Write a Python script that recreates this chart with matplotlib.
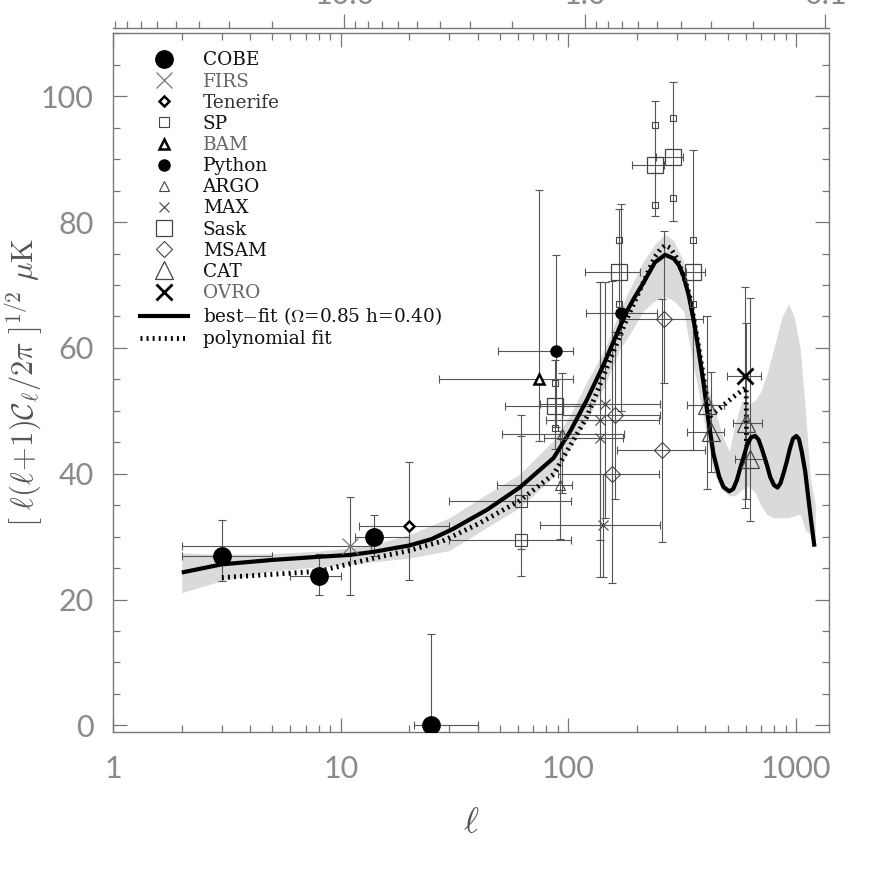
import numpy as np
import matplotlib
matplotlib.use('Agg')
import matplotlib.pyplot as plt
from matplotlib.lines import Line2D
from matplotlib.ticker import FixedLocator, FuncFormatter, NullFormatter
from matplotlib.font_manager import FontProperties

plt.rcParams['mathtext.fontset'] = 'cm'

# ---------------- data ----------------
# best-fit model curve (Omega=0.85, h=0.40)
fit_ell = [2, 3, 5, 8, 11, 14, 20, 25, 31, 44, 61, 86, 102, 120, 143, 169, 181, 195, 214,
           240, 266, 290, 305, 320, 337, 354, 372, 392, 412, 434, 460, 480, 509, 530, 550,
           570, 588, 610, 635, 662, 685, 710, 745, 770, 800, 829, 855, 885, 912, 940, 970,
           1004, 1030, 1060, 1098, 1130, 1165, 1205]
fit_val = [24.3, 25.6, 26.3, 26.8, 27.1, 27.6, 28.6, 29.6, 31.2, 34.3, 37.8, 42.5, 46.8,
           51.6, 57.4, 63.5, 65.9, 68.0, 70.4, 73.6, 74.8, 74.2, 73.2, 71.5, 68.5, 64.7,
           60.0, 54.5, 48.5, 43.1, 39.5, 37.9, 37.2, 37.6, 39.0, 41.0, 42.6, 44.6, 45.8,
           46.0, 45.4, 43.8, 41.4, 39.5, 38.2, 37.8, 38.5, 40.3, 42.0, 44.0, 45.6, 46.0,
           45.5, 43.5, 40.3, 36.5, 32.5, 28.4]

# grey uncertainty band
band_ell = [2, 3, 5, 8, 11, 14, 20, 30, 44, 61, 86, 102, 120, 143, 169, 181, 214, 240,
            266, 290, 320, 354, 392, 434, 470, 509, 540, 578, 620, 662, 700, 745, 800,
            870, 927, 980, 1043, 1100, 1155, 1215]
band_lo = [21.1, 23.0, 24.5, 25.2, 25.6, 26.0, 26.6, 27.8, 31.5, 34.6, 39.5, 44.1, 48.5,
           53.7, 60.0, 61.5, 65.9, 67.5, 68.1, 67.5, 65.9, 57.3, 48.8, 40.3, 37.5, 36.5,
           36.5, 37.5, 38.0, 37.0, 35.0, 33.5, 33.0, 33.0, 33.0, 33.3, 33.6, 31.0, 30.4,
           29.0]
band_hi = [27.4, 27.2, 27.3, 27.7, 28.2, 28.8, 30.3, 33.0, 36.8, 39.9, 45.3, 49.4, 54.5,
           59.5, 66.0, 68.5, 73.8, 76.5, 78.1, 77.0, 73.8, 65.9, 55.7, 51.1, 46.5, 43.5,
           48.0, 51.6, 51.0, 51.7, 53.0, 55.8, 60.0, 65.0, 67.0, 65.0, 60.0, 50.0, 39.4,
           35.0]

# polynomial fit
poly_ell = [3, 5, 8, 11, 14, 20, 28, 40, 61, 86, 120, 158, 181, 214, 240, 255, 266, 280,
            300, 320, 340, 354, 372, 392, 410, 420, 470, 530, 604, 606]
poly_val = [23.5, 24.0, 24.5, 25.7, 26.6, 27.8, 29.3, 32.0, 35.7, 39.9, 48.9, 59.5, 64.7,
            70.5, 74.5, 75.8, 76.3, 75.9, 74.2, 71.5, 68.5, 65.0, 60.5, 55.5, 51.0, 49.2,
            50.6, 52.2, 53.7, 44.4]

# experiments: ell, value, lower end, upper end, ell_min, ell_max
cobe_l = [3, 8, 14, 25];       cobe_v = [27.0, 23.7, 29.9, 0.0]
cobe_lo = [22.9, 20.8, 26.9, -14.5]; cobe_hi = [32.7, 27.3, 33.4, 14.5]
cobe_l1 = [2, 6, 11.5, 21];    cobe_l2 = [5, 10, 20, 40]

firs_l = [11];   firs_v = [28.5];  firs_lo = [20.7]; firs_hi = [36.3]
firs_l1 = [2];   firs_l2 = [13.5]

ten_l = [20];    ten_v = [31.7];   ten_lo = [23.1];  ten_hi = [41.9]
ten_l1 = [12];   ten_l2 = [30]

sp_l = [62, 62];       sp_v = [29.4, 35.7]
sp_lo = [23.7, 28.0];  sp_hi = [49.3, 46.0]
sp_l1 = [30, 30];      sp_l2 = [103, 103]

bam_l = [74.4];  bam_v = [55.0];  bam_lo = [45.2]; bam_hi = [85.1]
bam_l1 = [27];   bam_l2 = [105]

py_l = [88.3, 170.4];  py_v = [59.5, 65.6]
py_lo = [47.5, 50.0];  py_hi = [74.7, 82.9]
py_l1 = [49, 120];     py_l2 = [105, 245]

argo_l = [93.5, 92];    argo_v = [46.3, 38.2]
argo_lo = [37.0, 29.6]; argo_hi = [56.0, 46.8]
argo_l1 = [51, 48.5];   argo_l2 = [176, 103.6]

max_l = [145, 138, 137, 142];        max_v = [51.1, 48.6, 45.7, 31.8]
max_lo = [33.0, 23.6, 29.5, 23.6];   max_hi = [70.5, 70.5, 70.5, 40.0]
max_l1 = [75, 80, 78, 75];           max_l2 = [253, 249, 174, 253]

sask_l = [87, 166.5, 239, 288, 351]
sask_v = [50.8, 72.1, 89.1, 90.3, 72.1]
sask_lo = [44.0, 62.0, 81.0, 80.1, 43.7]
sask_hi = [58.0, 82.0, 99.2, 102.3, 91.4]
sask_l1 = [52.6, 118, 190, 243, 327]
sask_l2 = [125, 206, 262, 320, 400]
sask_cal_lo = [47.3, 67.0, 82.7, 83.8, 67.0]   # small squares on the bars
sask_cal_hi = [54.5, 77.2, 95.4, 96.6, 77.2]

msam_l = [160.4, 155.8, 264, 258];     msam_v = [49.4, 40.0, 64.6, 43.7]
msam_lo = [36.0, 22.7, 54.5, 29.2];    msam_hi = [62.5, 70.7, 78.6, 67.8]
msam_l1 = [93.5, 90, 168.7, 163];      msam_l2 = [253, 250, 392, 399]

cat_l = [406, 424, 604, 629];          cat_v = [51.0, 46.6, 48.1, 42.3]
cat_lo = [37.5, 40.3, 36.0, 32.5];     cat_hi = [65.0, 56.2, 64.0, 67.9]
cat_l1 = [333, 333, 530, 540];         cat_l2 = [483, 483, 711, 720]

ovro_l = [594];  ovro_v = [55.5];  ovro_lo = [34.6]; ovro_hi = [69.7]
ovro_l1 = [497]; ovro_l2 = [701]

x_ticks = [1, 10, 100, 1000]
y_ticks = [0, 20, 40, 60, 80, 100]
theta_ticks = [0.1, 1.0, 10.0]

# ---------------- styles ----------------
styles = {
    'COBE':     dict(marker='o', ms=12.5, mfc='k', mec='k', mew=1.0),
    'FIRS':     dict(marker='x', ms=12, mfc='none', mec='#777777', mew=0.9),
    'Tenerife': dict(marker='D', ms=5.5, mfc='white', mec='k', mew=1.8),
    'SP':       dict(marker='s', ms=7.5, mfc='none', mec='#444444', mew=0.8),
    'BAM':      dict(marker='^', ms=7, mfc='white', mec='k', mew=1.8),
    'Python':   dict(marker='o', ms=8, mfc='k', mec='k', mew=1.0),
    'ARGO':     dict(marker='^', ms=7.5, mfc='none', mec='#444444', mew=0.8),
    'MAX':      dict(marker='x', ms=7, mfc='none', mec='#444444', mew=0.8),
    'Sask':     dict(marker='s', ms=12, mfc='none', mec='#444444', mew=0.9),
    'MSAM':     dict(marker='D', ms=8, mfc='none', mec='#444444', mew=0.8),
    'CAT':      dict(marker='^', ms=13, mfc='none', mec='#444444', mew=0.9),
    'OVRO':     dict(marker='x', ms=11, mfc='none', mec='k', mew=2.0),
}
text_col = {'FIRS': '#666666', 'BAM': '#666666', 'OVRO': '#666666', 'Tenerife': '#333333'}

AXC = '#777777'
TKC = '#8a8a8a'

fig = plt.figure(figsize=(8.72, 8.72), dpi=100)
ax = fig.add_axes([0.1299, 0.1609, 0.8211, 0.8009])
ax.set_xscale('log')
ax.set_xlim(1, 1400)
ax.set_ylim(-1, 110)

ax.fill_between(band_ell, band_lo, band_hi, color='#dadada', lw=0, zorder=1)


def exp_plot(name, l, v, lo, hi, l1, l2, size_override=None):
    l = np.array(l, float); v = np.array(v, float)
    yerr = [v - np.array(lo), np.array(hi) - v]
    xerr = [l - np.array(l1), np.array(l2) - l]
    ax.errorbar(l, v, yerr=yerr, xerr=xerr, fmt='none', ecolor='#555555',
                elinewidth=0.8, capsize=3, capthick=0.8, zorder=2)
    st = dict(styles[name])
    if size_override is not None:
        st['ms'] = size_override
    ax.plot(l, v, linestyle='none', zorder=5, **st)


exp_plot('COBE', cobe_l, cobe_v, cobe_lo, cobe_hi, cobe_l1, cobe_l2)
exp_plot('FIRS', firs_l, firs_v, firs_lo, firs_hi, firs_l1, firs_l2)
exp_plot('Tenerife', ten_l, ten_v, ten_lo, ten_hi, ten_l1, ten_l2)
exp_plot('SP', sp_l, sp_v, sp_lo, sp_hi, sp_l1, sp_l2, size_override=9)
exp_plot('BAM', bam_l, bam_v, bam_lo, bam_hi, bam_l1, bam_l2)
exp_plot('Python', py_l, py_v, py_lo, py_hi, py_l1, py_l2)
exp_plot('ARGO', argo_l, argo_v, argo_lo, argo_hi, argo_l1, argo_l2)
exp_plot('MAX', max_l, max_v, max_lo, max_hi, max_l1, max_l2)
exp_plot('Sask', sask_l, sask_v, sask_lo, sask_hi, sask_l1, sask_l2)
ax.plot(sask_l + sask_l, sask_cal_lo + sask_cal_hi, linestyle='none', marker='s', ms=3.8,
        mfc='none', mec='#444444', mew=0.8, zorder=5)
exp_plot('MSAM', msam_l, msam_v, msam_lo, msam_hi, msam_l1, msam_l2)
exp_plot('CAT', cat_l, cat_v, cat_lo, cat_hi, cat_l1, cat_l2)
exp_plot('OVRO', ovro_l, ovro_v, ovro_lo, ovro_hi, ovro_l1, ovro_l2)

DOT = (0, (0.4, 0.85))
ax.plot(poly_ell, poly_val, color='k', lw=3.5, linestyle=DOT, dash_capstyle='butt', zorder=4)
ax.plot(fit_ell, fit_val, color='k', lw=3.0, solid_capstyle='butt', solid_joinstyle='round',
        zorder=4)

# ---------------- axes styling ----------------
for sp in ax.spines.values():
    sp.set_color(AXC); sp.set_linewidth(1.0)

ax.xaxis.set_major_locator(FixedLocator(x_ticks))
ax.xaxis.set_minor_locator(FixedLocator([m * 10 ** k for k in range(0, 4) for m in range(2, 10)
                                         if m * 10 ** k < 1400]))
ax.xaxis.set_major_formatter(FuncFormatter(lambda v, p: f'{v:g}'))
ax.xaxis.set_minor_formatter(NullFormatter())
ax.yaxis.set_major_locator(FixedLocator(y_ticks))
ax.yaxis.set_minor_locator(FixedLocator(list(range(0, 111, 5))))

ax.tick_params(which='both', direction='in', top=True, right=True, color=AXC, width=0.9)
ax.tick_params(which='major', length=10)
ax.tick_params(which='minor', length=5)
ax.tick_params(axis='x', which='major', pad=17)
ax.tick_params(axis='y', which='major', pad=14)

tick_font = dict(family=['Lato', 'DejaVu Sans'], weight='normal', size=22)
for lab in ax.get_xticklabels() + ax.get_yticklabels():
    lab.set_fontproperties(FontProperties(**tick_font))
    lab.set_color(TKC)

# top angular-scale axis
K = 1.0571
L0 = 1.015


def l2t(l):
    l = np.clip(np.asarray(l, float), 1e-6, None)
    return 10 ** (1 - (np.log10(l) - L0) / K)


def t2l(t):
    t = np.clip(np.asarray(t, float), 1e-6, None)
    return 10 ** (L0 + (1 - np.log10(t)) * K)


sec = ax.secondary_xaxis(1.0 + 5 / 698.4, functions=(l2t, t2l))
sec.xaxis.set_major_locator(FixedLocator(theta_ticks))
sec.xaxis.set_minor_locator(FixedLocator([m * 10 ** k for k in (-1, 0, 1) for m in range(2, 10)]))
sec.xaxis.set_major_formatter(FuncFormatter(lambda v, p: f'{v:.1f}'))
sec.xaxis.set_minor_formatter(NullFormatter())
sec.tick_params(which='both', direction='out', color=AXC, width=0.9)
sec.tick_params(which='major', length=10, pad=4)
sec.tick_params(which='minor', length=5)
for sp in sec.spines.values():
    sp.set_color(AXC); sp.set_linewidth(1.0)
for lab in sec.get_xticklabels():
    lab.set_fontproperties(FontProperties(**tick_font))
    lab.set_color(TKC)

ax.set_ylabel(r'$\left[\ \ell(\ell\!+\!1)\mathcal{C}_\ell/2\pi\ \right]^{1/2}\ \mu{\rm K}$',
              fontsize=22, color='#555555')
ax.yaxis.set_label_coords(-0.095, 0.5)
ax.set_xlabel(r'$\ell$', fontsize=26, color='#555555')
ax.xaxis.set_label_coords(0.5, -0.105)

# ---------------- legend ----------------
handles = []
labels = []
for name in ['COBE', 'FIRS', 'Tenerife', 'SP', 'BAM', 'Python', 'ARGO', 'MAX', 'Sask',
             'MSAM', 'CAT', 'OVRO']:
    handles.append(Line2D([], [], linestyle='none', **styles[name]))
    labels.append(name)
handles.append(Line2D([], [], color='k', lw=3.0))
labels.append(r'best$-$fit ($\Omega$=0.85 h=0.40)')
handles.append(Line2D([], [], color='k', lw=3.5, linestyle=DOT, dash_capstyle='butt'))
labels.append('polynomial fit')

leg = ax.legend(handles, labels, loc='upper left', bbox_to_anchor=(0.037, 0.974),
                frameon=False, prop=dict(family='DejaVu Serif', size=13.3),
                handlelength=2.6, handletextpad=0.8, labelspacing=0.17, borderpad=0,
                borderaxespad=0)
for txt, name in zip(leg.get_texts(), labels):
    txt.set_color(text_col.get(name, '#111111'))

fig.savefig('out.png', dpi=100)
